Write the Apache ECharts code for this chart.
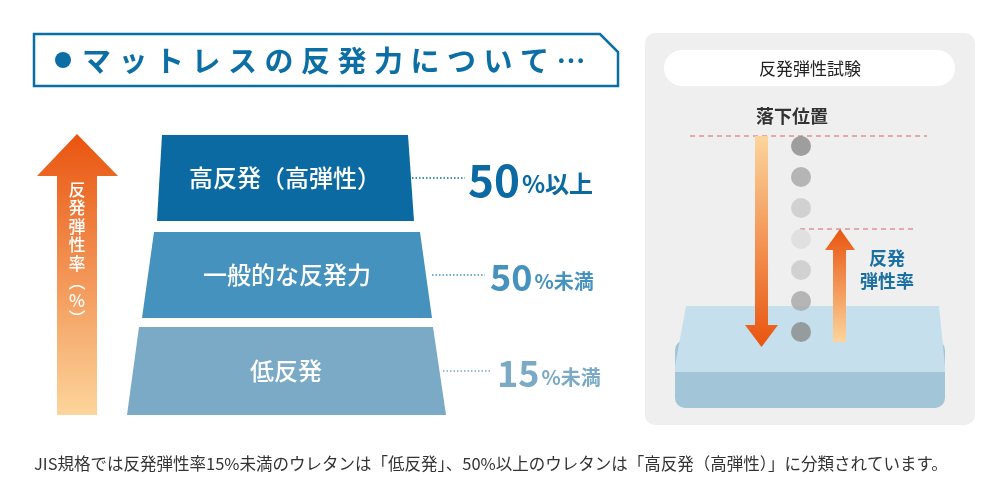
<!DOCTYPE html>
<html><head><meta charset="utf-8">
<script src="https://cdn.jsdelivr.net/npm/echarts@6/dist/echarts.min.js"></script>
<style>html,body{margin:0;background:#fff}#c{width:1000px;height:500px}</style>
</head><body><div id="c"></div>
<script>
const tierNames = ['高反発（高弾性）', '一般的な反発力', '低反発'];
const tierRates = ['50', '50', '15'];
const tierSuffix = ['%以上', '%未満', '%未満'];
const tierColors = ['#0a6aa1', '#4592be', '#7aaac6'];
const dotShades = ['#8a8a8a', '#a6a6a6', '#c9c9c9', '#dcdcdc', '#c9c9c9', '#a6a6a6', '#8a8a8a'];
const titleText = 'マットレスの反発力について…';
const F = '"Noto Sans CJK JP","Noto Sans",sans-serif';

const chart = echarts.init(document.getElementById('c'));
const geo = [
  [135, 221, 162, 408, 157, 414, 412, 465, 468],
  [232, 318, 154, 420, 142, 432, 432, 485, 490],
  [327, 415, 139, 433, 127, 446, 443, 490, 497]
];
const sizes = [[44, 24], [36, 20], [36, 20]];
const orangeDown = new echarts.graphic.LinearGradient(0, 0, 0, 1, [{offset: 0, color: '#fcd59c'}, {offset: 1, color: '#e9540f'}]);
const orangeUp = new echarts.graphic.LinearGradient(0, 0, 0, 1, [{offset: 0, color: '#e9540f'}, {offset: 1, color: '#fcd59c'}]);

const titleChars = Array.from(titleText).map((ch, i) => ({
  type: 'text', style: {text: ch, x: 82 + i * 36.5, y: 61, verticalAlign: 'middle', fill: '#0b6fa5', font: 'bold 29px ' + F}
}));

chart.setOption({
  animation: false,
  grid: {left: 0, top: 0, width: 1000, height: 500},
  xAxis: {type: 'value', min: 0, max: 1000, show: false},
  yAxis: {type: 'value', min: 0, max: 500, inverse: true, show: false},
  series: [{
    type: 'custom',
    data: tierNames.map((n, i) => [i]),
    renderItem: function (params, api) {
      const i = api.value(0);
      const g = geo[i];
      const p = (x, y) => api.coord([x, y]);
      const cy = (g[0] + g[1]) / 2;
      return {type: 'group', children: [
        {type: 'polygon', shape: {points: [p(g[2], g[0]), p(g[3], g[0]), p(g[5], g[1]), p(g[4], g[1])]}, style: {fill: tierColors[i]}},
        {type: 'text', style: {text: tierNames[i], x: p((g[2] + g[3]) / 2, 0)[0], y: p(0, cy)[1], align: 'center', verticalAlign: 'middle', fill: '#fff', font: '500 24px ' + F}},
        {type: 'line', shape: {x1: p(g[6], 0)[0], y1: p(0, cy)[1], x2: p(g[7], 0)[0], y2: p(0, cy)[1]}, style: {stroke: tierColors[i], lineWidth: 1.5, lineDash: [1.5, 2]}},
        {type: 'text', style: {
          x: p(g[8], 0)[0], y: p(0, cy)[1] + 2, verticalAlign: 'middle',
          text: '{a|' + tierRates[i] + '}{b|' + tierSuffix[i] + '}',
          rich: {a: {fontSize: sizes[i][0], fontWeight: 'bold', fill: tierColors[i], fontFamily: F},
                 b: {fontSize: sizes[i][1], fontWeight: 'bold', fill: tierColors[i], fontFamily: F, padding: [8, 0, 0, 2]}}
        }}
      ]};
    }
  }, {
    type: 'scatter',
    symbolSize: 20,
    data: dotShades.map((c, i) => ({value: [801, 146 + i * 31], itemStyle: {color: c}})),
    z: 5
  }],
  graphic: [
    {type: 'polygon', shape: {points: [[34, 34], [600, 34], [618, 52], [618, 86], [34, 86]]}, style: {fill: '#fff', stroke: '#0b6fa5', lineWidth: 2.5}},
    {type: 'circle', shape: {cx: 63, cy: 60, r: 8}, style: {fill: '#0b6fa5'}},
    {type: 'group', children: titleChars},
    {type: 'polygon', shape: {points: [[77, 134], [118, 176], [97, 176], [97, 415], [57, 415], [57, 176], [37, 176]]}, style: {fill: orangeUp}},
    {type: 'text', style: {text: '反\n発\n弾\n性\n率\n︵\n%\n︶', x: 77, y: 180, align: 'center', lineHeight: 18.5, fill: '#fff', font: '500 17px ' + F}},
    {type: 'rect', shape: {x: 645, y: 33, width: 330, height: 392, r: 10}, style: {fill: '#efefef'}, z: -1},
    {type: 'rect', shape: {x: 664, y: 50, width: 291, height: 36, r: 18}, style: {fill: '#fff'}},
    {type: 'text', style: {text: '反発弾性試験', x: 810, y: 69, align: 'center', verticalAlign: 'middle', fill: '#222', font: '17px ' + F}},
    {type: 'text', style: {text: '落下位置', x: 792, y: 116, align: 'center', verticalAlign: 'middle', fill: '#333', font: 'bold 18px ' + F}},
    {type: 'rect', shape: {x: 675, y: 340, width: 270, height: 68, r: 10}, style: {fill: '#a3c5d8'}},
    {type: 'polygon', shape: {points: [[686, 306], [939, 306], [945, 366], [945, 372], [675, 372], [675, 366]]}, style: {fill: '#c5dfec'}},
    {type: 'line', shape: {x1: 690, y1: 136, x2: 927, y2: 136}, style: {stroke: '#d9646e', lineWidth: 1.2, lineDash: [5, 4]}},
    {type: 'line', shape: {x1: 800, y1: 229, x2: 917, y2: 229}, style: {stroke: '#d9646e', lineWidth: 1.2, lineDash: [5, 4]}},
    {type: 'polygon', shape: {points: [[755, 136], [768, 136], [768, 325], [778, 325], [761.5, 347], [745, 325], [755, 325]]}, style: {fill: orangeDown}, z: 3},
    {type: 'polygon', shape: {points: [[840, 229], [855, 250], [846, 250], [846, 342], [833, 342], [833, 250], [825, 250]]}, style: {fill: orangeUp}, z: 3},
    {type: 'text', style: {text: '反発\n弾性率', x: 887, y: 270, align: 'center', verticalAlign: 'middle', lineHeight: 23, fill: '#1a6fa5', font: 'bold 18px ' + F}},
    {type: 'text', style: {text: 'JIS規格では反発弾性率15%未満のウレタンは「低反発」、50%以上のウレタンは「高反発（高弾性）」に分類されています。', x: 34, y: 464, verticalAlign: 'middle', fill: '#333', font: '16.5px ' + F}}
  ]
});
</script></body></html>
